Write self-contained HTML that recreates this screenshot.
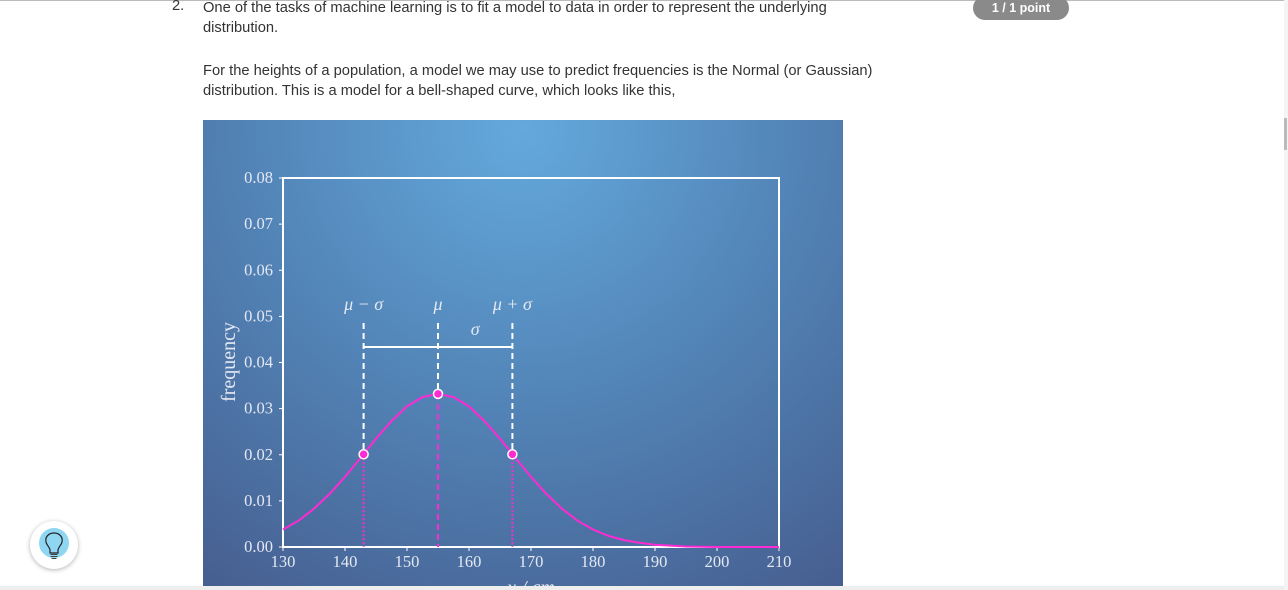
<!DOCTYPE html>
<html><head><meta charset="utf-8">
<style>
body{margin:0;width:1288px;height:590px;background:#fff;overflow:hidden;position:relative;font-family:"Liberation Sans",sans-serif;color:#333}
.t{position:absolute;left:203px;font-size:14.7px;line-height:20px;margin:0}
</style></head><body>
<div style="position:absolute;left:0;top:0;width:1285px;height:1px;background:#bbb"></div>
<div style="position:absolute;left:1284px;top:0;width:4px;height:590px;background:#f4f4f4"><div style="position:absolute;top:118px;width:3px;height:32px;background:#bbb"></div></div>
<div style="position:absolute;left:172px;top:-2px;font-size:14.7px">2.</div>
<p class="t" style="top:-2px">One of the tasks of machine learning is to fit a model to data in order to represent the underlying<br>distribution.</p>
<p class="t" style="top:61px">For the heights of a population, a model we may use to predict frequencies is the Normal (or Gaussian)<br>distribution. This is a model for a bell-shaped curve, which looks like this,</p>
<div style="position:absolute;left:973px;top:-4px;width:96px;height:24px;border-radius:12px;background:#8a8a8a;color:#fff;font-weight:bold;font-size:12.5px;text-align:center;line-height:24px;padding-top:0">1 / 1 point</div>
<div style="position:absolute;left:30px;top:521px;width:48px;height:48px;border-radius:50%;background:#fff;box-shadow:0 1px 5px rgba(0,0,0,.3)">
<svg width="48" height="48"><circle cx="24" cy="22" r="15" fill="#8fd6f3"/><path d="M24 12c-6 0-9 4.5-8 9 .6 3 3.5 5 4 8v3h8v-3c.5-3 3.4-5 4-8 1-4.5-2-9-8-9z" fill="none" stroke="#222" stroke-width="1.2"/><path d="M20.5 33.5h7M20.5 35.5h7M21.5 37.5h5" stroke="#444" stroke-width="1"/></svg></div>
<div style="position:absolute;left:0;top:586px;width:1284px;height:4px;background:#eee"></div>
<svg style="position:absolute;left:203px;top:120px" width="640" height="466" font-family="'Liberation Serif',serif">
<defs><radialGradient id="bg" cx="320" cy="10" r="560" gradientUnits="userSpaceOnUse"><stop offset="0" stop-color="#64a9dc"/><stop offset="0.5" stop-color="#5283b6"/><stop offset="1" stop-color="#465e8f"/></radialGradient></defs>
<rect width="640" height="466" fill="url(#bg)"/>
<g id="plot" transform="translate(-203,-120)"></g>
</svg>
<script>
const xs=[130,132.5,135,137.5,140,142.5,145,147.5,150,152.5,155,157.5,160,162.5,165,167.5,170,172.5,175,177.5,180,182.5,185,187.5,190,195,200,210];
const ys=[0.0038,0.0057,0.0083,0.0115,0.0152,0.0193,0.0235,0.0273,0.0305,0.0325,0.0332,0.0325,0.0305,0.0273,0.0235,0.0193,0.0152,0.0115,0.0083,0.0057,0.0038,0.0024,0.0015,0.0009,0.0005,0.0001,0,0];
const xTicks=[130,140,150,160,170,180,190,200,210];
const yTicks=[0,0.01,0.02,0.03,0.04,0.05,0.06,0.07,0.08];
const markerX=[143,155,167];
const markerY=[0.0201,0.0332,0.0201];
const markerLabels=["μ − σ","μ","μ + σ"];
const X=v=>283+(v-130)*(779-283)/80, Y=v=>547-v*(547-178)/0.08;
const g=document.getElementById('plot'),NS='http://www.w3.org/2000/svg';
function mk(t,a,txt){const e=document.createElementNS(NS,t);for(const k in a)e.setAttribute(k,a[k]);if(txt!=null)e.textContent=txt;g.appendChild(e);return e;}
let e;
e=mk('rect',{x:283,y:178,width:496,height:369,fill:'none',stroke:'#fff','stroke-width':2});


xTicks.forEach(v=>{mk('line',{x1:X(v),x2:X(v),y1:547,y2:551,stroke:'#fff'});
e=mk('text',{x:X(v),y:567,'text-anchor':'middle',fill:'#e4e8f2','font-size':16.5},v);

});
yTicks.forEach(v=>{mk('line',{x1:279,x2:283,y1:Y(v),y2:Y(v),stroke:'#fff'});
e=mk('text',{x:273,y:Y(v)+5,'text-anchor':'end',fill:'#e4e8f2','font-size':16.5},v.toFixed(2));

});
e=mk('text',{x:0,y:0,transform:'translate(235,362) rotate(-90)','text-anchor':'middle',fill:'#e4e8f2','font-size':20},'frequency');


e=mk('text',{x:531,y:594,'text-anchor':'middle',fill:'#e4e8f2','font-size':20,'font-style':'italic'},'x / cm');


let d='';xs.forEach((v,i)=>{d+=(i?'L':'M')+X(v).toFixed(1)+' '+Y(ys[i]).toFixed(1);});
e=mk('path',{d:d,fill:'none',stroke:'#ff2ad4','stroke-width':2});


e=mk('line',{x1:X(markerX[0]),x2:X(markerX[2]),y1:347,y2:347,stroke:'#fff','stroke-width':2});


e=mk('text',{x:X((markerX[1]+markerX[2])/2),y:335,'text-anchor':'middle',fill:'#e4e8f2','font-size':18,'font-style':'italic'},'σ');


markerX.forEach((v,i)=>{const x=X(v),y=Y(markerY[i]);
mk('line',{x1:x,x2:x,y1:323,y2:y,stroke:'#fff','stroke-width':2,'stroke-dasharray':'6 4'});
mk('line',{x1:x,x2:x,y1:y,y2:547,stroke:'#ff2ad4','stroke-width':2,'stroke-dasharray':i==1?'6 4':'2 2'});
e=mk('text',{x:x,y:310,'text-anchor':'middle',fill:'#e4e8f2','font-size':18,'font-style':'italic'},markerLabels[i]);


e=mk('circle',{cx:x,cy:y,r:4.5,fill:'#ff2ad4',stroke:'#fff','stroke-width':1.5});

});
</script>
</body></html>
